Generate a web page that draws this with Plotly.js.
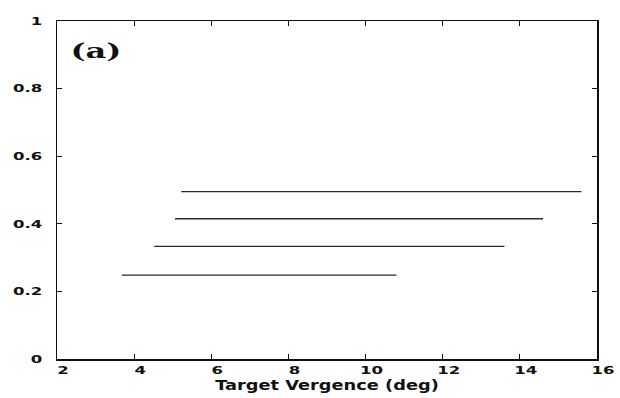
<!DOCTYPE html>
<html>
<head>
<meta charset="utf-8">
<script src="https://cdn.plot.ly/plotly-3.0.1.min.js"></script>
<style>
  html, body { margin: 0; padding: 0; background: #fff; }
  #chart { width: 620px; height: 398px; }
</style>
</head>
<body>
<div id="chart"></div>
<script>
// Horizontal segments: each spans a range of target vergence at a constant level
const segmentLevels = [0.495, 0.415, 0.333, 0.248];
const segmentStarts = [5.22, 5.06, 4.52, 3.68];
const segmentEnds   = [15.6, 14.6, 13.6, 10.8];

const xTicks = [2, 4, 6, 8, 10, 12, 14, 16];
const yTicks = [0, 0.2, 0.4, 0.6, 0.8, 1];
const yTickText = ['0', '0.2', '0.4', '0.6', '0.8', '1'];

const traces = segmentLevels.map((lvl, i) => ({
  type: 'scatter',
  mode: 'lines',
  x: [segmentStarts[i], segmentEnds[i]],
  y: [lvl, lvl],
  line: { color: '#2a2a2a', width: 1.3 },
  hoverinfo: 'skip',
  showlegend: false
}));

const labelFont = { family: 'DejaVu Sans, sans-serif', size: 11, color: '#111', weight: 'bold' };

const axisCommon = {
  showgrid: false,
  zeroline: false,
  showline: true,
  linecolor: '#111',
  linewidth: 1.5,
  mirror: 'ticks',
  ticks: 'inside',
  ticklen: 5,
  tickwidth: 1,
  tickcolor: '#111',
  tickfont: labelFont
};

const layout = {
  width: 620,
  height: 398,
  margin: { l: 57, r: 23, t: 21, b: 39 },
  paper_bgcolor: '#fff',
  plot_bgcolor: '#fff',
  xaxis: Object.assign({}, axisCommon, {
    range: [2, 16],
    tickvals: xTicks,
    ticktext: xTicks.map(String),
    title: { text: 'Target Vergence (deg)', standoff: 1,
             font: { family: 'DejaVu Sans, sans-serif', size: 14, color: '#111', weight: 'bold' } }
  }),
  yaxis: Object.assign({}, axisCommon, {
    range: [0, 1],
    tickvals: yTicks,
    ticktext: yTickText,
    ticklabelstandoff: 11
  }),
  annotations: [{
    text: '(a)',
    xref: 'paper', yref: 'paper',
    x: 0.039, y: 0.912,
    xanchor: 'left', yanchor: 'middle',
    showarrow: false,
    font: { family: 'DejaVu Serif, serif', size: 20, color: '#111', weight: 'bold' }
  }]
};

// Widen a set of text labels horizontally (wide-set typeface look)
function widen(selector, factor, dx) {
  document.querySelectorAll(selector).forEach(t => {
    const w = t.getComputedTextLength();
    t.setAttribute('textLength', (w * factor).toFixed(1));
    t.setAttribute('lengthAdjust', 'spacingAndGlyphs');
    if (dx) t.setAttribute('dx', dx);
  });
}

Plotly.newPlot('chart', traces, layout, { displayModeBar: false, staticPlot: true }).then(() => {
  widen('#chart .xtick text', 1.5, 6);
  widen('#chart .ytick text', 1.5, 0);
  widen('#chart .g-xtitle text', 1.27, 0);
  widen('#chart .annotation-text', 1.6, 0);
});
</script>
</body>
</html>
